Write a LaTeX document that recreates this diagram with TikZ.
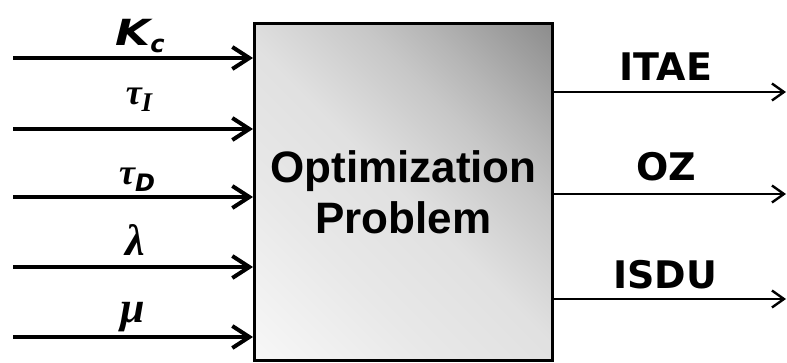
\documentclass[tikz,border=0pt]{standalone}
\usepackage{fontspec}
\setmainfont{Liberation Sans}
\newfontfamily\labfont{DejaVu Sans}
\newfontfamily\greekfont{Liberation Serif}
\usetikzlibrary{arrows.meta}
% diagonal grey fill of the block: light at the lower left, dark at the upper right
\definecolor{g00}{gray}{0.97}
\definecolor{g28}{gray}{0.91}
\definecolor{g50}{gray}{0.88}
\definecolor{g70}{gray}{0.78}
\definecolor{g80}{gray}{0.71}
\definecolor{g90}{gray}{0.63}
\definecolor{g99}{gray}{0.55}
\pgfdeclareverticalshading{blockshade}{100bp}{color(0bp)=(g00); color(14.6bp)=(g00); color(34.4bp)=(g28); color(50bp)=(g50); color(64.1bp)=(g70); color(71.2bp)=(g80); color(78.3bp)=(g90); color(85.4bp)=(g99); color(100bp)=(g99)}
\tikzset{
  inarrow/.style={line width=4pt, -{Straight Barb[length=17pt, width=22pt, line width=4pt]}},
  outarrow/.style={line width=2.4pt, -{Straight Barb[length=12pt, width=17pt, line width=2.4pt]}},
  lab/.style={inner sep=0pt, font=\labfont\bfseries\fontsize{38}{38}\selectfont},
  glab/.style={inner sep=0pt, font=\greekfont\bfseries\itshape\fontsize{#1}{#1}\selectfont},
  glab/.default=38,
}
\newcommand{\subs}[1]{\raisebox{-7pt}{\labfont\bfseries\itshape\fontsize{24}{24}\selectfont #1}}
\newcommand{\subserif}[1]{\raisebox{-7pt}{\greekfont\bfseries\itshape\fontsize{27}{27}\selectfont #1}}
\begin{document}
\begin{tikzpicture}[x=1pt, y=-1pt]
\useasboundingbox (0,0) rectangle (787,363);
% central block
\node[draw, line width=3pt, minimum width=298pt, minimum height=337pt, inner sep=0pt,
      shading=blockshade, shading angle=-45,
      align=center, font=\bfseries\fontsize{44}{51}\selectfont]
  (box) at (403.5,192) {Optimization\\Problem};
% input ends
\coordinate (i1) at (13,58);
\coordinate (i2) at (13,129);
\coordinate (i3) at (13,197);
\coordinate (i4) at (13,267);
\coordinate (i5) at (13,337);
\foreach \c in {i1,i2,i3,i4,i5}
  \draw[inarrow] (\c) -- (box.west |- \c);
% output ends
\coordinate (o1) at (786,92);
\coordinate (o2) at (786,194);
\coordinate (o3) at (786,299);
\foreach \c in {o1,o2,o3}
  \draw[outarrow] (box.east |- \c) -- (\c);
% input labels
\node[inner sep=0pt, font=\labfont\bfseries\itshape\fontsize{36}{36}\selectfont] (kc) at (140,36)
  {\scalebox{1.25}[1]{K}\subs{c}};
\node[glab=36] (ti) at (139,100) {τ\subserif{I}};
\node[glab=36] (td) at (137,180) {τ\subs{D}};
\node[glab=44] (la) at (135,240) {λ};
\node[glab=44] (mu) at (133,317) {μ};
% output labels
\node[lab] (itae) at (666,67) {ITAE};
\node[lab] (oz) at (666,167) {OZ};
\node[lab] (isdu) at (665,275) {ISDU};
\end{tikzpicture}
\end{document}
